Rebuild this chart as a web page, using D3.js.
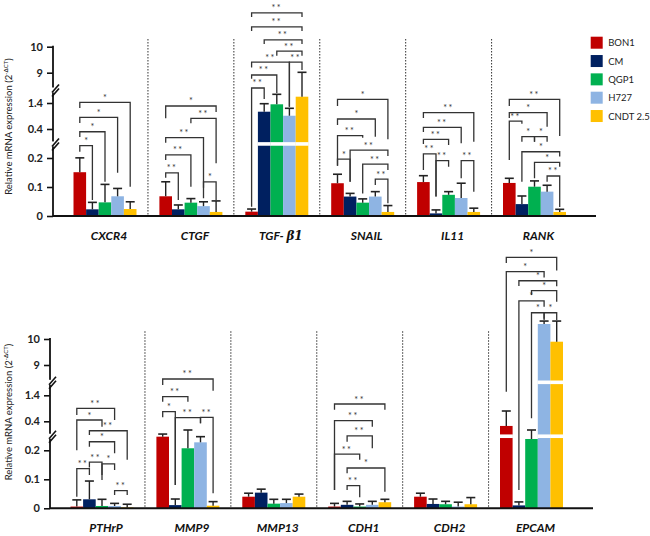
<!DOCTYPE html>
<html><head><meta charset="utf-8">
<script src="https://cdn.jsdelivr.net/npm/d3@7"></script>
<style>body{margin:0;background:#fff}svg{display:block}</style>
</head><body>
<svg id="chart" width="650" height="536"></svg>
<script>
const series = ["BON1","CM","QGP1","H727","CNDT 2.5"];
const colors = ["#C00000","#002060","#00B050","#8EB4E3","#FFC000"];
const genesTop = ["CXCR4","CTGF","TGF-β1","SNAIL","IL11","RANK"];
const genesBottom = ["PTHrP","MMP9","MMP13","CDH1","CDH2","EPCAM"];
const tickValues = [0,0.1,0.2,0.4,1.4,9,10];
const tickLabels = ["0","0.1","0.2","0.4","1.4","9","10"];
const axisBreaks = [0.297, 4.66];

// means (order = series) and SD
const meanCXCR4 = [0.151,0.023,0.047,0.068,0.024], sdCXCR4 = [0.050,0.024,0.062,0.027,0.025];
const meanCTGF  = [0.068,0.023,0.046,0.034,0.014], sdCTGF  = [0.050,0.015,0.014,0.015,0.038];
const meanTGFB1 = [0.015,1.065,1.35,0.91,2.98],    sdTGFB1 = [0.009,0.308,2.23,0.286,6.035];
const meanSNAIL = [0.113,0.067,0.046,0.067,0.014], sdSNAIL = [0.031,0.011,0.013,0.017,0.022];
const meanIL11  = [0.117,0.009,0.073,0.062,0.014], sdIL11  = [0.022,0.012,0.011,0.051,0.013];
const meanRANK  = [0.114,0.041,0.101,0.084,0.014], sdRANK  = [0.016,0.028,0.020,0.022,0.009];
const meanPTHRP = [0.006,0.031,0.008,0.008,0.003], sdPTHRP = [0.023,0.063,0.023,0.009,0.011];
const meanMMP9  = [0.294,0.011,0.214,0.255,0.009], sdMMP9  = [0.018,0.021,0.126,0.039,0.014];
const meanMMP13 = [0.040,0.054,0.016,0.018,0.040], sdMMP13 = [0.012,0.012,0.015,0.013,0.009];
const meanCDH1  = [0.006,0.012,0.006,0.012,0.021], sdCDH1  = [0.011,0.012,0.009,0.012,0.010];
const meanCDH2  = [0.040,0.015,0.014,0.006,0.014], sdCDH2  = [0.012,0.017,0.010,0.015,0.023];
const meanEPCAM = [0.368,0.010,0.278,10.577,9.896], sdEPCAM = [0.428,0.012,0.062,0.113,0.794];

// significance brackets: [gene, from, to, level, leftEnd, rightEnd, label] (y values)
const bracketsTop = [
 ["CXCR4",0,1,0.285,0.243,0.055,"*"],
 ["CXCR4",0,2,0.381,0.345,0.118,"*"],
 ["CXCR4",0,3,0.85,0.63,0.149,"*"],
 ["CXCR4",0,4,1.576,1.21,0.101,"*"],
 ["CTGF",0,1,0.149,0.132,0.055,"**"],
 ["CTGF",0,2,0.221,0.193,0.101,"**"],
 ["CTGF",0,3,0.340,0.306,0.061,"**"],
 ["CTGF",2,4,0.812,0.619,0.182,"**"],
 ["CTGF",0,4,1.285,0.812,1.054,"*"],
 ["CTGF",3,4,0.118,0.097,0.055,"*"],
 ["TGF-β1",0,1,5.16,0.032,2.4,"**"],
 ["TGF-β1",0,2,8.42,7.5,3.9,"**"],
 ["TGF-β1",0,3,9.41,9.2,1.26,"**"],
 ["TGF-β1",3,4,9.41,1.26,9.10,"**"],
 ["TGF-β1",2,4,9.83,9.65,9.65,"**"],
 ["TGF-β1",1,4,10.26,10.1,10.1,"**"],
 ["TGF-β1",0,4,10.76,10.6,10.6,"**"],
 ["TGF-β1",0,4,11.30,11.14,11.14,"**"],
 ["SNAIL",0,4,2.33,1.285,0.329,"*"],
 ["SNAIL",0,3,0.785,0.554,0.347,"*"],
 ["SNAIL",0,2,0.354,0.173,0.34,"**"],
 ["SNAIL",0,1,0.196,0.173,0.118,"*"],
 ["SNAIL",1,4,0.255,0.118,0.214,"**"],
 ["SNAIL",2,4,0.179,0.078,0.159,"**"],
 ["SNAIL",3,4,0.127,0.107,0.044,"**"],
 ["IL11",0,4,1.027,0.823,0.312,"**"],
 ["IL11",0,3,0.465,0.379,0.301,"**"],
 ["IL11",0,2,0.329,0.297,0.290,"**"],
 ["IL11",0,1,0.228,0.159,0.067,"**"],
 ["IL11",1,2,0.191,0.067,0.170,"**"],
 ["IL11",3,4,0.191,0.130,0.084,"**"],
 ["RANK",0,4,2.33,1.285,0.352,"**"],
 ["RANK",0,3,1.027,0.823,0.488,"*"],
 ["RANK",0,1,0.70,0.193,0.60,"**"],
 ["RANK",1,2,0.347,0.312,0.312,"*"],
 ["RANK",2,3,0.347,0.312,0.312,"*"],
 ["RANK",1,4,0.243,0.118,0.211,"*"],
 ["RANK",2,4,0.185,0.130,0.170,"*"],
 ["RANK",3,4,0.138,0.118,0.031,"**"]
];
const bracketsBottom = [
 ["PTHrP",0,3,0.9,0.642,0.45,"**"],
 ["PTHrP",0,2,0.45,0.201,0.363,"*"],
 ["PTHrP",1,4,0.335,0.306,0.167,"**"],
 ["PTHrP",1,3,0.259,0.225,0.19,"*"],
 ["PTHrP",0,1,0.137,0.04,0.115,"**"],
 ["PTHrP",1,2,0.159,0.141,0.098,"**"],
 ["PTHrP",2,3,0.153,0.115,0.132,"*"],
 ["PTHrP",3,4,0.061,0.046,0.046,"**"],
 ["MMP9",0,4,5.49,3.98,2.55,"**"],
 ["MMP9",0,2,1.346,1.154,1.154,"**"],
 ["MMP9",0,1,0.769,0.554,0.08,"*"],
 ["MMP9",1,3,0.538,0.08,0.386,"**"],
 ["MMP9",3,4,0.554,0.386,0.052,"**"],
 ["CDH1",0,4,1.065,0.846,0.846,"**"],
 ["CDH1",0,3,0.423,0.063,0.363,"**"],
 ["CDH1",1,3,0.299,0.259,0.214,"**"],
 ["CDH1",0,2,0.187,0.063,0.167,"**"],
 ["CDH1",1,4,0.139,0.121,0.057,"*"],
 ["CDH1",1,2,0.078,0.063,0.038,"**"],
 ["EPCAM",0,4,13.14,12.92,12.63,"*"],
 ["EPCAM",0,3,12.59,2.30,12.37,"*"],
 ["EPCAM",1,4,12.24,12.04,12.03,"*"],
 ["EPCAM",2,4,11.86,11.69,11.43,"*"],
 ["EPCAM",1,3,11.47,0.063,11.24,"*"],
 ["EPCAM",2,3,11.01,0.515,10.73,"*"],
 ["EPCAM",3,4,11.01,10.78,10.73,"*"]
];

// build table
const table = {
 "CXCR4":[meanCXCR4,sdCXCR4], "CTGF":[meanCTGF,sdCTGF], "TGF-β1":[meanTGFB1,sdTGFB1],
 "SNAIL":[meanSNAIL,sdSNAIL], "IL11":[meanIL11,sdIL11], "RANK":[meanRANK,sdRANK],
 "PTHrP":[meanPTHRP,sdPTHRP], "MMP9":[meanMMP9,sdMMP9], "MMP13":[meanMMP13,sdMMP13],
 "CDH1":[meanCDH1,sdCDH1], "CDH2":[meanCDH2,sdCDH2], "EPCAM":[meanEPCAM,sdEPCAM]
};

const svg = d3.select("#chart");
const FONT = "Lato, 'Open Sans', sans-serif";
const y = d3.scaleLinear().domain([0,0.2,0.4,1.4,9,10,14]).range([169.3,111.3,82.3,56.3,26,0,-104]);

const panels = [
 {genes:genesTop, ax:53, top:46.7, brackets:bracketsTop, legend:true, titleY:126.5},
 {genes:genesBottom, ax:50, top:339, brackets:bracketsBottom, legend:false, titleY:412}
];

panels.forEach(p => {
  const g = svg.append("g").attr("transform", `translate(${p.ax},${p.top})`);
  const x = d3.scalePoint().domain(p.genes).range([52, 481.5]);
  const xs = d3.scaleBand().domain(d3.range(series.length)).range([-31.5, 31.5]).padding(0);
  const cx = (gene, s) => x(gene) + xs(s) + xs.bandwidth()/2;

  // dividers
  for (let i = 0; i < p.genes.length - 1; i++) {
    const xd = (x(p.genes[i]) + x(p.genes[i+1])) / 2;
    g.append("line").attr("x1", xd).attr("x2", xd).attr("y1", y(10.3)).attr("y2", y(0))
      .attr("stroke", "#444").attr("stroke-width", 1.1).attr("stroke-dasharray", "1.5,1.5");
  }

  // bars
  p.genes.forEach(gene => {
    const [mean, sd] = table[gene];
    mean.forEach((m, s) => {
      g.append("rect").attr("x", x(gene) + xs(s)).attr("width", xs.bandwidth())
        .attr("y", y(m)).attr("height", y(0) - y(m)).attr("fill", colors[s]);
      axisBreaks.forEach(b => {
        if (m > b) g.append("rect").attr("x", x(gene) + xs(s) - 0.3).attr("width", xs.bandwidth() + 0.6)
          .attr("y", y(b) - 1.8).attr("height", 3.6).attr("fill", "#fff");
      });
    });
    mean.forEach((m, s) => {
      const c = cx(gene, s), yt = y(m + sd[s]);
      g.append("line").attr("x1", c).attr("x2", c).attr("y1", y(m)).attr("y2", yt)
        .attr("stroke", "#222").attr("stroke-width", 1.4);
      g.append("line").attr("x1", c - 4.5).attr("x2", c + 4.5).attr("y1", yt).attr("y2", yt)
        .attr("stroke", "#222").attr("stroke-width", 1.6);
    });
  });

  // brackets
  p.brackets.forEach(([gene, a, b, lv, le, re, lab]) => {
    const x1 = cx(gene, a), x2 = cx(gene, b);
    g.append("path").attr("d", `M${x1},${y(le)}V${y(lv)}H${x2}V${y(re)}`)
      .attr("fill", "none").attr("stroke", "#333").attr("stroke-width", 1.3);
    g.append("text").attr("x", (x1 + x2) / 2).attr("y", y(lv) - 1.5)
      .attr("text-anchor", "middle").attr("font-family", FONT).attr("font-size", 9)
      .attr("letter-spacing", lab.length > 1 ? 1.5 : 0).attr("fill", "#333").text(lab);
  });

  // baseline
  g.append("line").attr("x1", 0).attr("x2", 543).attr("y1", y(0)).attr("y2", y(0))
    .attr("stroke", "#111").attr("stroke-width", 2);

  // y axis
  const axis = d3.axisLeft(y).tickValues(tickValues).tickFormat((d, i) => tickLabels[i]).tickSize(6).tickPadding(4);
  const ag = g.append("g").call(axis);
  ag.select(".domain").remove();
  ag.selectAll(".tick line").attr("stroke", "#111").attr("stroke-width", 1.6);
  ag.selectAll(".tick text").attr("font-family", FONT).attr("font-size", 11).attr("font-weight", "bold").attr("fill", "#222");
  g.append("line").attr("x1", 0).attr("x2", 0).attr("y1", y(10) - 1).attr("y2", y(0))
    .attr("stroke", "#111").attr("stroke-width", 1.8);
  axisBreaks.forEach(b => {
    const yb = y(b);
    g.append("rect").attr("x", -2).attr("y", yb - 2.5).attr("width", 4).attr("height", 5).attr("fill", "#fff");
    [[-1, yb + 2.5, 6, yb - 5.5], [-1, yb + 6.5, 6, yb - 1.5]].forEach(([a1, b1, a2, b2]) =>
      g.append("line").attr("x1", a1).attr("y1", b1).attr("x2", a2).attr("y2", b2)
        .attr("stroke", "#111").attr("stroke-width", 1.6));
  });

  // gene labels
  p.genes.forEach(gene => {
    const t = g.append("text").attr("x", x(gene) + 4).attr("y", y(0) + 24)
      .attr("text-anchor", "middle").attr("font-family", FONT).attr("font-size", 12)
      .attr("font-weight", "bold").attr("font-style", "italic").attr("fill", "#111");
    if (gene === "TGF-β1") {
      t.append("tspan").text("TGF- ");
      t.append("tspan").attr("font-family", "'DejaVu Serif', serif").attr("font-size", 12).text("β1");
    } else t.text(gene);
  });

  // y title
  const tt = g.append("text").attr("transform", `translate(${12 - p.ax},${p.titleY - p.top}) rotate(-90)`)
    .attr("text-anchor", "middle").attr("font-family", FONT).attr("font-size", 9.5).attr("fill", "#222");
  tt.append("tspan").text("Relative mRNA expression (2");
  tt.append("tspan").attr("font-size", 6).attr("dy", -4).text("-");
  tt.append("tspan").attr("font-size", 6).attr("font-weight", "bold").text("Δ");
  tt.append("tspan").attr("font-size", 6).text("CT");
  tt.append("tspan").attr("dy", 4).text(")");

  // legend
  if (p.legend) {
    const lg = svg.append("g").attr("transform", "translate(590.7,36.7)");
    series.forEach((s, i) => {
      const row = lg.append("g").attr("transform", `translate(0,${i * 18.33})`);
      row.append("rect").attr("width", 12).attr("height", 12).attr("fill", colors[i]);
      row.append("text").attr("x", 17.5).attr("y", 9.8).attr("font-family", FONT)
        .attr("font-size", 9.5).attr("fill", "#222").text(s);
    });
  }
});
</script>
</body></html>
